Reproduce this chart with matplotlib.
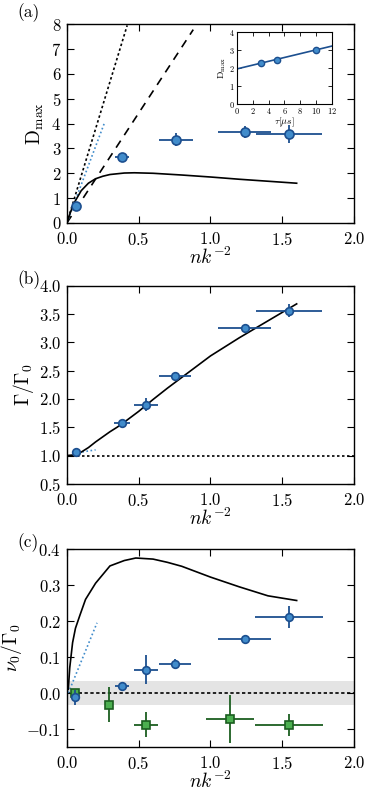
import numpy as np
import matplotlib
matplotlib.use("Agg")
import matplotlib.pyplot as plt

plt.rcParams["font.family"] = "serif"
plt.rcParams["font.serif"] = ["cmr10", "DejaVu Serif"]
plt.rcParams["mathtext.fontset"] = "cm"
plt.rcParams["axes.formatter.use_mathtext"] = True
plt.rcParams["axes.unicode_minus"] = True

LIGHT = "#418ccb"
DARK = "#1c4f8f"
GLIGHT = "#4caf50"
GDARK = "#1b5e20"

# panel (a): D_max vs nk^-2
a_x = [0.065, 0.385, 0.76, 1.237, 1.545]
a_y = [0.68, 2.67, 3.35, 3.65, 3.58]
a_xerr = [0.0, 0.05, 0.115, 0.185, 0.23]
a_yerr = [0.08, 0.1, 0.27, 0.25, 0.37]
a_curve_x = [0, 0.02, 0.05, 0.1, 0.15, 0.2, 0.25, 0.3, 0.4, 0.47, 0.6, 0.8, 1.0, 1.2, 1.4, 1.6]
a_curve_y = [0, 0.35, 0.8, 1.3, 1.6, 1.78, 1.88, 1.95, 2.01, 2.02, 2.0, 1.93, 1.85, 1.76, 1.68, 1.6]
a_dot_x = [0, 0.42]
a_dot_y = [0, 7.95]
a_blue_x = [0, 0.26]
a_blue_y = [0, 4.0]
a_dash_x = [0, 0.88]
a_dash_y = [0, 7.78]

# inset: D_max vs tau
in_x = [3, 5, 10]
in_y = [2.28, 2.45, 3.02]
in_line_x = [0, 12]
in_line_y = [1.95, 3.22]

# panel (b): Gamma/Gamma_0
b_x = [0.063, 0.385, 0.552, 0.754, 1.237, 1.545]
b_y = [1.06, 1.58, 1.9, 2.4, 3.26, 3.56]
b_xerr = [0.0, 0.055, 0.083, 0.11, 0.185, 0.23]
b_yerr = [0.02, 0.03, 0.12, 0.03, 0.03, 0.12]
b_curve_x = [0, 0.05, 0.1, 0.15, 0.2, 0.25, 0.3, 0.35, 0.4, 0.5, 0.6, 0.7, 0.8, 0.9, 1.0, 1.2, 1.4, 1.6]
b_curve_y = [1.0, 1.01, 1.06, 1.14, 1.24, 1.33, 1.42, 1.5, 1.59, 1.78, 1.99, 2.19, 2.38, 2.57, 2.76, 3.08, 3.38, 3.68]
b_blue_x = [0.05, 0.2]
b_blue_y = [1.04, 1.1]

# panel (c): nu_0/Gamma_0
c_x = [0.06, 0.385, 0.552, 0.754, 1.237, 1.545]
c_y = [-0.012, 0.02, 0.065, 0.082, 0.15, 0.212]
c_xerr = [0.0, 0.05, 0.083, 0.11, 0.185, 0.235]
c_yerr = [0.02, 0.005, 0.04, 0.012, 0.008, 0.03]
g_x = [0.06, 0.29, 0.552, 1.137, 1.545]
g_y = [0.0, -0.032, -0.088, -0.072, -0.088]
g_xerr = [0.0, 0.02, 0.083, 0.165, 0.235]
g_yerr = [0.012, 0.048, 0.035, 0.067, 0.03]
c_curve_x = [0.01, 0.02, 0.04, 0.06, 0.09, 0.13, 0.2, 0.3, 0.4, 0.48, 0.6, 0.7, 0.8, 1.0, 1.2, 1.4, 1.6]
c_curve_y = [0.01, 0.07, 0.14, 0.18, 0.215, 0.26, 0.305, 0.353, 0.368, 0.375, 0.372, 0.363, 0.352, 0.322, 0.295, 0.27, 0.257]
c_blue_x = [0.01, 0.21]
c_blue_y = [0.0, 0.195]
band = 0.033


def style(ax, size=12):
    ax.tick_params(direction="in", top=True, right=True, labelsize=size,
                   length=5, width=0.8, pad=4)
    ax.tick_params(axis="x", pad=6)
    for s in ax.spines.values():
        s.set_linewidth(1.0)


fig = plt.figure(figsize=(3.82, 8.05), dpi=100)
L, W = 0.175, 0.752
axa = fig.add_axes([L, 0.723, W, 0.247])
axb = fig.add_axes([L, 0.399, W, 0.246])
axc = fig.add_axes([L, 0.072, W, 0.246])

# (a)
axa.plot(a_dot_x, a_dot_y, color="k", ls=(0, (1.5, 1.5)), lw=1.2)
axa.plot(a_dash_x, a_dash_y, color="k", ls=(0, (5, 4)), lw=1.2)
axa.plot(a_blue_x, a_blue_y, color=LIGHT, ls=(0, (1, 1.5)), lw=1.2)
axa.plot(a_curve_x, a_curve_y, color="k", lw=1.2)
axa.errorbar(a_x, a_y, xerr=a_xerr, yerr=a_yerr, fmt="o", ms=6.5, mfc=LIGHT,
             mec=DARK, mew=1.2, ecolor=DARK, elinewidth=1.3, capsize=0, zorder=5)
axa.set_xlim(0, 2)
axa.set_ylim(0, 8)
axa.set_xticks([0, 0.5, 1.0, 1.5, 2.0])
axa.set_yticks(range(0, 9))
axa.set_xlabel("$nk^{-2}$", fontsize=14, labelpad=-1)
axa.set_ylabel(r"$\mathrm{D_{max}}$", fontsize=14, labelpad=4)
style(axa)
fig.text(0.045, 0.984, "(a)", fontsize=12.5, va="center")

ins = fig.add_axes([237 / 382, 1 - 104 / 805, 95 / 382, 72 / 805])
ins.plot(in_line_x, in_line_y, color=DARK, lw=1.2)
ins.plot(in_x, in_y, "o", ms=4.5, mfc=LIGHT, mec=DARK, mew=1.0)
ins.set_xlim(0, 12)
ins.set_ylim(0, 4)
ins.set_xticks(range(0, 13, 2))
ins.set_yticks(range(0, 5))
ins.tick_params(direction="in", top=True, right=True, labelsize=6,
                length=3, width=0.6, pad=1.5)
ins.set_xlabel(r"$\tau[\mu s]$", fontsize=7, labelpad=0)
ins.set_ylabel(r"$\mathrm{D_{max}}$", fontsize=7, labelpad=1)

# (b)
axb.axhline(1.0, color="k", ls=(0, (1.5, 1.5)), lw=1.2)
axb.plot(b_blue_x, b_blue_y, color=LIGHT, ls=(0, (1, 1.5)), lw=1.2)
axb.plot(b_curve_x, b_curve_y, color="k", lw=1.2)
axb.errorbar(b_x, b_y, xerr=b_xerr, yerr=b_yerr, fmt="o", ms=5.5, mfc=LIGHT,
             mec=DARK, mew=1.2, ecolor=DARK, elinewidth=1.3, capsize=0, zorder=5)
axb.set_xlim(0, 2)
axb.set_ylim(0.5, 4.0)
axb.set_xticks([0, 0.5, 1.0, 1.5, 2.0])
axb.set_yticks(np.arange(0.5, 4.01, 0.5))
axb.set_xlabel("$nk^{-2}$", fontsize=14, labelpad=-1)
axb.set_ylabel(r"$\Gamma/\Gamma_0$", fontsize=14, labelpad=2)
style(axb)
fig.text(0.045, 0.652, "(b)", fontsize=12.5, va="center")

# (c)
axc.axhspan(-band, band, color="#d9d9d9", alpha=0.7, lw=0)
axc.axhline(0.0, color="k", ls=(0, (2, 1.5)), lw=1.2)
axc.plot(c_blue_x, c_blue_y, color=LIGHT, ls=(0, (1, 1.5)), lw=1.2)
axc.plot(c_curve_x, c_curve_y, color="k", lw=1.2)
axc.errorbar(g_x, g_y, xerr=g_xerr, yerr=g_yerr, fmt="s", ms=5.5, mfc=GLIGHT,
             mec=GDARK, mew=1.2, ecolor=GDARK, elinewidth=1.3, capsize=0, zorder=5)
axc.errorbar(c_x, c_y, xerr=c_xerr, yerr=c_yerr, fmt="o", ms=5.5, mfc=LIGHT,
             mec=DARK, mew=1.2, ecolor=DARK, elinewidth=1.3, capsize=0, zorder=6)
axc.set_xlim(0, 2)
axc.set_ylim(-0.15, 0.4)
axc.set_xticks([0, 0.5, 1.0, 1.5, 2.0])
axc.set_yticks([-0.1, 0.0, 0.1, 0.2, 0.3, 0.4])
axc.set_xlabel("$nk^{-2}$", fontsize=14, labelpad=-1)
axc.set_ylabel(r"$\nu_0/\Gamma_0$", fontsize=14, labelpad=2)
style(axc)
fig.text(0.045, 0.326, "(c)", fontsize=12.5, va="center", fontweight="bold")

fig.savefig("out.png", dpi=100)
